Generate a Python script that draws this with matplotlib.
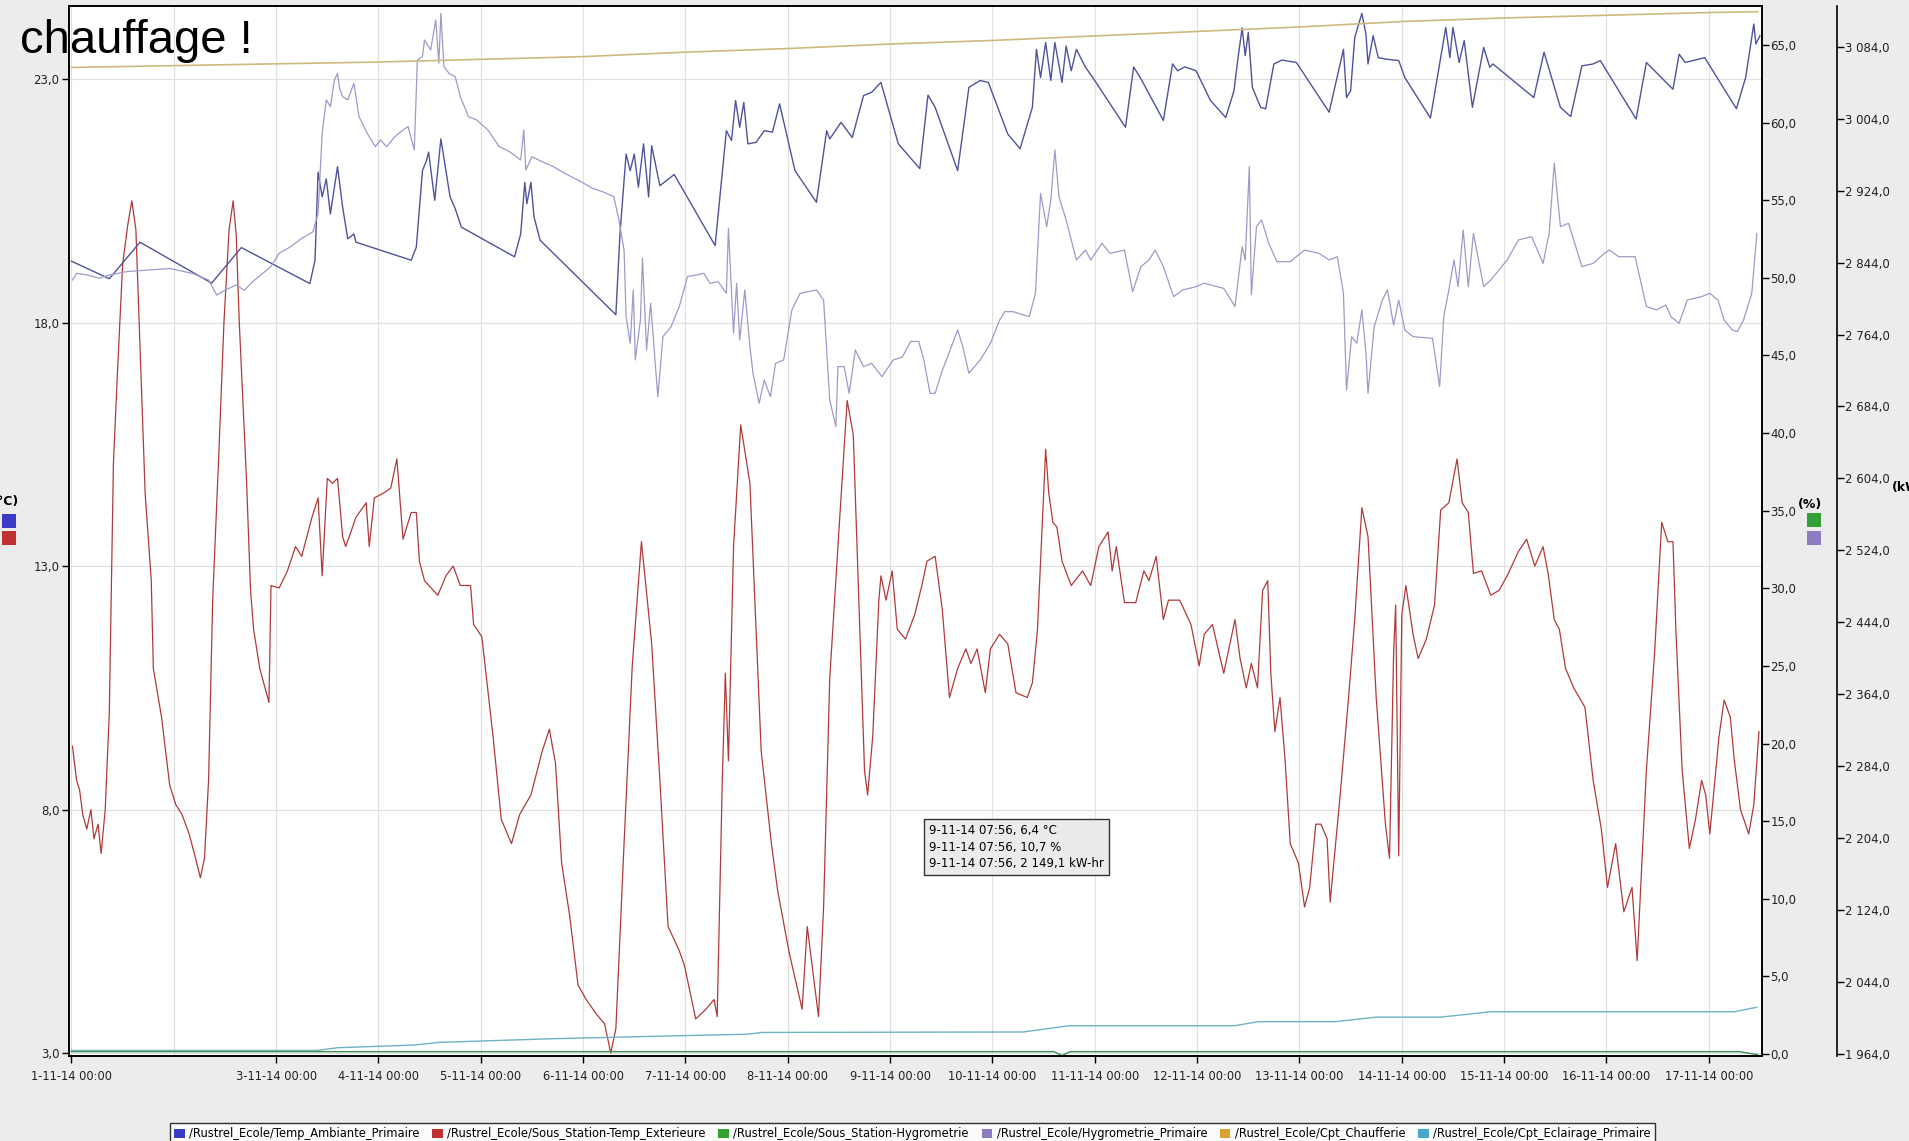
import numpy as np
import matplotlib
matplotlib.use('Agg')
import matplotlib.pyplot as plt
from matplotlib.patches import Patch, Rectangle

# ---- data (x in days since 1-11-14 00:00) ----
red_days = [0.01, 0.05, 0.08, 0.11, 0.15, 0.19, 0.22, 0.26, 0.29, 0.33, 0.37, 0.41, 0.45, 0.50, 0.55, 0.59,
            0.63, 0.67, 0.72, 0.78, 0.80, 0.88, 0.96, 1.02, 1.08, 1.15, 1.20, 1.26, 1.30, 1.34, 1.38, 1.44,
            1.49, 1.54, 1.58, 1.61, 1.64, 1.71, 1.75, 1.78, 1.84, 1.93, 1.95, 2.03, 2.11, 2.19, 2.25, 2.35,
            2.41, 2.45, 2.50, 2.55, 2.60, 2.65, 2.68, 2.78, 2.88, 2.91, 2.96, 3.05, 3.12, 3.18, 3.24, 3.32,
            3.37, 3.40, 3.45, 3.58, 3.66, 3.73, 3.80, 3.90, 3.93, 4.01, 4.12, 4.20, 4.30, 4.38, 4.49, 4.60,
            4.67, 4.73, 4.79, 4.87, 4.95, 5.03, 5.13, 5.21, 5.27, 5.32, 5.40, 5.48, 5.57, 5.67, 5.75, 5.83,
            5.94, 5.99, 6.10, 6.20, 6.28, 6.31, 6.36, 6.39, 6.42, 6.47, 6.54, 6.63, 6.74, 6.84, 6.90, 7.01,
            7.14, 7.19, 7.22, 7.30, 7.35, 7.41, 7.49, 7.58, 7.64, 7.75, 7.78, 7.83, 7.89, 7.91, 7.96, 8.02,
            8.07, 8.15, 8.24, 8.31, 8.36, 8.44, 8.51, 8.58, 8.66, 8.74, 8.79, 8.85, 8.93, 8.98, 9.07, 9.15,
            9.23, 9.34, 9.39, 9.44, 9.52, 9.55, 9.59, 9.63, 9.68, 9.77, 9.88, 9.96, 10.04, 10.13, 10.17, 10.21,
            10.29, 10.40, 10.48, 10.53, 10.60, 10.67, 10.72, 10.83, 10.94, 11.02, 11.07, 11.15, 11.26, 11.37,
            11.42, 11.48, 11.53, 11.59, 11.64, 11.69, 11.72, 11.76, 11.81, 11.86, 11.91, 11.99, 12.05, 12.10,
            12.16, 12.21, 12.27, 12.30, 12.40, 12.48, 12.54, 12.61, 12.67, 12.75, 12.84, 12.88, 12.92, 12.94,
            12.97, 13.00, 13.04, 13.11, 13.16, 13.24, 13.32, 13.38, 13.46, 13.54, 13.59, 13.65, 13.70, 13.78,
            13.87, 13.95, 14.03, 14.14, 14.22, 14.30, 14.38, 14.43, 14.49, 14.54, 14.60, 14.68, 14.79, 14.87,
            14.95, 15.01, 15.09, 15.17, 15.25, 15.30, 15.39, 15.47, 15.54, 15.60, 15.65, 15.68, 15.74, 15.81,
            15.87, 15.93, 15.97, 16.01, 16.06, 16.10, 16.15, 16.21, 16.25, 16.31, 16.39, 16.44, 16.49]
red_vals = [9.3, 8.6, 8.4, 7.9, 7.6, 8.0, 7.4, 7.7, 7.1, 8.0, 10.0, 15.1, 17.0, 19.2, 20.0, 20.5,
            19.9, 17.5, 14.5, 12.7, 10.9, 9.9, 8.5, 8.1, 7.9, 7.5, 7.1, 6.6, 7.0, 8.6, 12.3, 15.3,
            18.0, 19.9, 20.5, 19.8, 18.0, 14.8, 12.5, 11.7, 10.9, 10.2, 12.6, 12.55, 12.9, 13.4, 13.2, 14.0,
            14.4, 12.8, 14.8, 14.7, 14.8, 13.6, 13.4, 14.0, 14.3, 13.4, 14.4, 14.5, 14.6, 15.2, 13.55, 14.1,
            14.1, 13.1, 12.7, 12.4, 12.8, 13.0, 12.6, 12.6, 11.8, 11.55, 9.5, 7.8, 7.3, 7.9, 8.3, 9.2,
            9.65, 8.95, 6.9, 5.8, 4.4, 4.1, 3.8, 3.6, 3.0, 3.5, 7.3, 10.95, 13.5, 11.4, 8.6, 5.6,
            5.1, 4.8, 3.7, 3.9, 4.1, 3.75, 8.6, 10.8, 9.0, 13.4, 15.9, 14.7, 9.2, 7.3, 6.35, 5.1,
            3.9, 5.6, 5.1, 3.75, 6.0, 10.7, 13.4, 16.4, 15.7, 8.8, 8.3, 9.5, 12.3, 12.8, 12.3, 12.9,
            11.7, 11.5, 12.0, 12.6, 13.1, 13.2, 12.1, 10.3, 10.9, 11.3, 11.0, 11.3, 10.4, 11.3, 11.6, 11.4,
            10.4, 10.3, 10.6, 11.7, 15.4, 14.5, 13.9, 13.8, 13.1, 12.6, 12.9, 12.6, 13.4, 13.7, 12.9, 13.4,
            12.25, 12.25, 12.9, 12.7, 13.2, 11.9, 12.3, 12.3, 11.8, 10.95, 11.6, 11.8, 10.8, 11.9,
            11.1, 10.5, 11.0, 10.5, 12.5, 12.7, 10.8, 9.6, 10.3, 9.0, 7.3, 6.9, 6.0, 6.4,
            7.7, 7.7, 7.4, 6.1, 8.35, 10.3, 11.9, 14.2, 13.6, 10.3, 7.7, 7.0, 11.2, 12.2,
            7.05, 12.0, 12.6, 11.6, 11.1, 11.5, 12.2, 14.15, 14.3, 15.2, 14.3, 14.1, 12.85, 12.9,
            12.4, 12.5, 12.8, 13.3, 13.55, 13.0, 13.4, 12.85, 11.9, 11.7, 10.9, 10.5, 10.1, 8.6,
            7.6, 6.4, 7.3, 5.9, 6.4, 4.9, 8.8, 11.2, 13.9, 13.5, 13.5, 11.6, 8.8, 7.2,
            7.8, 8.6, 8.3, 7.5, 8.6, 9.5, 10.25, 9.9, 9.0, 8.0, 7.5, 8.1, 9.6]

blue_days = [0.00, 0.37, 0.67, 1.37, 1.66, 2.33, 2.38, 2.41, 2.45, 2.49, 2.53, 2.60, 2.65, 2.70, 2.76, 2.78,
             3.32, 3.37, 3.43, 3.47, 3.49, 3.55, 3.61, 3.70, 3.75, 3.81, 4.33, 4.39, 4.43, 4.45, 4.49, 4.52,
             4.58, 5.32, 5.36, 5.42, 5.46, 5.50, 5.54, 5.59, 5.64, 5.67, 5.75, 5.89, 6.29, 6.40, 6.45, 6.49,
             6.53, 6.57, 6.61, 6.69, 6.77, 6.85, 6.92, 7.07, 7.28, 7.38, 7.41, 7.52, 7.63, 7.74, 7.82, 7.91,
             8.08, 8.29, 8.37, 8.44, 8.66, 8.77, 8.88, 8.96, 9.15, 9.27, 9.39, 9.43, 9.47, 9.52, 9.57, 9.61,
             9.68, 9.72, 9.77, 9.82, 9.91, 9.99, 10.30, 10.38, 10.46, 10.67, 10.76, 10.81, 10.88, 10.99, 11.13,
             11.28, 11.36, 11.40, 11.44, 11.47, 11.50, 11.54, 11.62, 11.67, 11.75, 11.83, 11.97, 12.29, 12.43,
             12.46, 12.50, 12.54, 12.61, 12.65, 12.67, 12.72, 12.77, 12.84, 12.97, 13.03, 13.28, 13.43, 13.47,
             13.50, 13.56, 13.61, 13.69, 13.80, 13.86, 13.89, 14.29, 14.39, 14.55, 14.65, 14.76, 14.87, 14.94,
             15.29, 15.39, 15.65, 15.71, 15.77, 15.96, 16.27, 16.36, 16.44, 16.46, 16.50]
blue_vals = [19.26, 18.9, 19.65, 18.81, 19.54, 18.8, 19.28, 21.09, 20.58, 20.95, 20.23, 21.2, 20.37, 19.72, 19.82, 19.65,
             19.28, 19.55, 21.12, 21.33, 21.5, 20.51, 21.77, 20.58, 20.34, 19.96, 19.35, 19.82, 20.88, 20.44, 20.88, 20.17,
             19.69, 18.16, 19.82, 21.46, 21.12, 21.46, 20.78, 21.67, 20.58, 21.63, 20.81, 21.04, 19.58, 21.94, 21.74, 22.56,
             22.01, 22.52, 21.67, 21.7, 21.94, 21.91, 22.49, 21.12, 20.47, 21.94, 21.77, 22.11, 21.8, 22.66, 22.73, 22.93,
             21.67, 21.16, 22.67, 22.42, 21.12, 22.83, 22.97, 22.93, 21.87, 21.57, 22.42, 23.61, 23.03, 23.75, 22.97, 23.75,
             22.93, 23.68, 23.17, 23.61, 23.24, 23.0, 22.01, 23.25, 22.97, 22.15, 23.31, 23.17, 23.25, 23.17, 22.56,
             22.21, 22.76, 23.44, 24.05, 23.48, 23.96, 22.83, 22.42, 22.39, 23.31, 23.39, 23.34, 22.32, 23.61,
             22.62, 22.76, 23.85, 24.35, 23.92, 23.31, 23.89, 23.44, 23.41, 23.38, 23.03, 22.2, 24.06, 23.44,
             24.06, 23.34, 23.79, 22.42, 23.65, 23.24, 23.31, 22.62, 23.55, 22.42, 22.23, 23.27, 23.31, 23.38,
             22.18, 23.34, 22.79, 23.51, 23.34, 23.44, 22.39, 23.03, 24.13, 23.72, 23.89]

purple_days = [0.01, 0.05, 0.16, 0.27, 0.37, 0.54, 0.75, 0.96, 1.18, 1.34, 1.42, 1.50, 1.61, 1.69, 1.77, 1.85,
               1.95, 2.03, 2.14, 2.25, 2.36, 2.41, 2.45, 2.49, 2.53, 2.57, 2.60, 2.62, 2.65, 2.70, 2.76, 2.81,
               2.89, 2.97, 3.02, 3.08, 3.16, 3.24, 3.29, 3.35, 3.38, 3.43, 3.45, 3.51, 3.56, 3.59, 3.61, 3.64,
               3.69, 3.75, 3.80, 3.88, 3.96, 4.07, 4.18, 4.28, 4.39, 4.42, 4.44, 4.50, 4.60, 4.71, 4.82, 4.98,
               5.09, 5.19, 5.30, 5.35, 5.40, 5.42, 5.46, 5.49, 5.51, 5.56, 5.58, 5.62, 5.66, 5.73, 5.78, 5.86,
               5.94, 6.02, 6.10, 6.18, 6.24, 6.32, 6.40, 6.42, 6.47, 6.50, 6.53, 6.58, 6.63, 6.66, 6.72, 6.77,
               6.83, 6.88, 6.96, 7.04, 7.12, 7.20, 7.28, 7.35, 7.41, 7.47, 7.49, 7.55, 7.60, 7.66, 7.74, 7.82,
               7.92, 8.03, 8.12, 8.20, 8.28, 8.33, 8.39, 8.44, 8.50, 8.66, 8.71, 8.77, 8.88, 8.98, 9.07, 9.12,
               9.20, 9.36, 9.42, 9.47, 9.53, 9.57, 9.61, 9.65, 9.72, 9.82, 9.91, 9.96, 10.07, 10.15, 10.29, 10.37,
               10.45, 10.53, 10.59, 10.67, 10.77, 10.86, 10.99, 11.07, 11.26, 11.37, 11.44, 11.47, 11.51, 11.53,
               11.58, 11.63, 11.70, 11.78, 11.91, 12.05, 12.19, 12.29, 12.37, 12.43, 12.46, 12.51, 12.56, 12.61,
               12.65, 12.67, 12.73, 12.81, 12.86, 12.92, 12.97, 13.03, 13.11, 13.30, 13.37, 13.41, 13.46, 13.51,
               13.55, 13.60, 13.65, 13.70, 13.80, 13.87, 13.95, 14.03, 14.14, 14.27, 14.38, 14.44, 14.49, 14.55,
               14.63, 14.76, 14.87, 14.98, 15.03, 15.12, 15.28, 15.39, 15.49, 15.58, 15.63, 15.71, 15.79, 15.93,
               16.01, 16.09, 16.15, 16.23, 16.28, 16.34, 16.42, 16.47]
purple_vals = [49.86, 50.29, 50.18, 49.97, 50.18, 50.4, 50.5, 50.6, 50.29, 49.86, 48.89, 49.2, 49.54, 49.2, 49.75, 50.18,
               50.72, 51.58, 52.0, 52.54, 52.97, 54.15, 59.3, 61.46, 61.03, 62.74, 63.17, 62.21, 61.67, 61.46, 62.53, 60.38,
               59.31, 58.45, 58.88, 58.45, 59.09, 59.52, 59.74, 58.24, 64.03, 64.25, 65.32, 64.68, 66.61, 63.82, 67.04, 63.6,
               63.17, 62.96, 61.67, 60.38, 60.17, 59.52, 58.45, 58.13, 57.59, 59.52, 56.95, 57.8, 57.48, 57.16, 56.73, 56.19,
               55.77, 55.55, 55.23, 53.72, 51.79, 47.5, 45.78, 49.22, 44.71, 47.28, 51.26, 45.35, 48.36, 42.34, 46.21, 46.86,
               48.15, 50.08, 50.18, 50.29, 49.65, 49.75, 49.0, 53.19, 46.43, 49.65, 46.0, 49.22, 45.57, 43.85, 41.92, 43.42,
               42.34, 44.49, 44.71, 47.93, 49.0, 49.11, 49.22, 48.57, 42.13, 40.41, 44.28, 44.28, 42.56, 45.35, 44.28, 44.49,
               43.63, 44.71, 44.9, 45.9, 45.9, 44.7, 42.56, 42.56, 43.85, 46.64, 45.57, 43.85, 44.71, 45.78, 47.28, 47.82,
               47.82, 47.5, 49.0, 55.44, 53.3, 55.01, 58.24, 55.23, 53.73, 51.15, 51.79, 51.15, 52.22, 51.58, 51.79, 49.11,
               50.72, 51.15, 51.79, 50.72, 48.79, 49.22, 49.43, 49.65, 49.32, 48.15, 52.0, 51.15, 57.16, 48.9,
               53.3, 53.73, 52.22, 51.04, 51.04, 51.79, 51.58, 51.15, 51.36, 49.0, 42.77, 46.21, 45.78, 47.93,
               45.14, 42.56, 46.85, 48.57, 49.22, 46.96, 48.57, 46.64, 46.21, 46.1, 42.99, 47.5, 49.22, 51.15,
               49.43, 53.08, 49.43, 52.86, 49.43, 49.86, 50.5, 51.15, 52.44, 52.65, 50.93, 52.86, 57.38, 53.3,
               53.51, 50.72, 50.93, 51.58, 51.79, 51.36, 51.36, 48.15, 47.93, 48.25, 47.5, 47.07, 48.57, 48.79,
               49.0, 48.57, 47.28, 46.64, 46.53, 47.28, 49.0, 52.86]

green_days = [0.0, 9.60, 9.68, 9.76, 16.30, 16.48]
green_vals = [0.15, 0.15, -0.1, 0.15, 0.15, -0.05]

gold_days = [0.0, 1.0, 2.0, 3.0, 4.0, 5.0, 6.0, 7.0, 8.0, 9.0, 10.0, 11.0, 12.0, 13.0, 14.0, 15.0, 16.0, 16.48]
gold_vals = [3061, 3063, 3065, 3067, 3070, 3073, 3078, 3082, 3087, 3091, 3096, 3101, 3106, 3112, 3116, 3119, 3122, 3123]

cyan_days = [0.0, 2.4, 2.6, 3.35, 3.6, 4.7, 5.8, 6.6, 6.75, 9.3, 9.75, 11.37, 11.6, 12.35, 12.75, 13.38, 13.87, 16.25, 16.47]
cyan_vals = [1968, 1968, 1971, 1974, 1977, 1981, 1984, 1986, 1988, 1988.5, 1995.5, 1995.5, 2000, 2000, 2005, 2005, 2011, 2011, 2016]

x_ticks = [0, 2, 3, 4, 5, 6, 7, 8, 9, 10, 11, 12, 13, 14, 15, 16]
x_labels = ['1-11-14 00:00', '3-11-14 00:00', '4-11-14 00:00', '5-11-14 00:00', '6-11-14 00:00',
            '7-11-14 00:00', '8-11-14 00:00', '9-11-14 00:00', '10-11-14 00:00', '11-11-14 00:00',
            '12-11-14 00:00', '13-11-14 00:00', '14-11-14 00:00', '15-11-14 00:00', '16-11-14 00:00',
            '17-11-14 00:00']
c_ticks = [3, 8, 13, 18, 23]
c_labels = ['3,0', '8,0', '13,0', '18,0', '23,0']
pct_ticks = [0, 5, 10, 15, 20, 25, 30, 35, 40, 45, 50, 55, 60, 65]
pct_labels = ['0,0', '5,0', '10,0', '15,0', '20,0', '25,0', '30,0', '35,0', '40,0', '45,0', '50,0',
              '55,0', '60,0', '65,0']
kw_ticks = [1964, 2044, 2124, 2204, 2284, 2364, 2444, 2524, 2604, 2684, 2764, 2844, 2924, 3004, 3084]
kw_labels = ['1 964,0', '2 044,0', '2 124,0', '2 204,0', '2 284,0', '2 364,0', '2 444,0', '2 524,0',
             '2 604,0', '2 684,0', '2 764,0', '2 844,0', '2 924,0', '3 004,0', '3 084,0']

series_names = ['/Rustrel_Ecole/Temp_Ambiante_Primaire', '/Rustrel_Ecole/Sous_Station-Temp_Exterieure',
                '/Rustrel_Ecole/Sous_Station-Hygrometrie', '/Rustrel_Ecole/Hygrometrie_Primaire',
                '/Rustrel_Ecole/Cpt_Chaufferie', '/Rustrel_Ecole/Cpt_Eclairage_Primaire']
legend_colors = ['#3b3bc8', '#c03232', '#33a033', '#8e7cc3', '#d9a232', '#44a9c9']

tooltip = '9-11-14 07:56, 6,4 °C\n9-11-14 07:56, 10,7 %\n9-11-14 07:56, 2 149,1 kW-hr'

# ---- figure ----
W, H = 1909, 1141
fig = plt.figure(figsize=(W / 100, H / 100), dpi=100, facecolor='#ececec')
L, R, T, B = 69, 1762, 6, 1056
ax = fig.add_axes([L / W, 1 - B / H, (R - L) / W, (B - T) / H])
ax.set_facecolor('white')
ax2 = ax.twinx()
ax3 = ax.twinx()
ax3.spines['right'].set_position(('axes', (1837 - L) / (R - L)))

ax.set_xlim(-0.024, 16.52)
ax.set_ylim(2.94, 24.5)
ax2.set_ylim(-0.13, 67.51)
ax3.set_ylim(1961.8, 3129.3)

ax.plot(red_days, red_vals, color='#b03a3a', lw=0.9)
ax.plot(blue_days, blue_vals, color='#50539c', lw=1.0)
ax2.plot(purple_days, purple_vals, color='#9d9bc9', lw=0.9)
ax2.plot(green_days, green_vals, color='#3f8f4f', lw=1.0)
ax3.plot(gold_days, gold_vals, color='#cdb97f', lw=1.2)
ax3.plot(cyan_days, cyan_vals, color='#6fb2c3', lw=1.0)

# grid
ax.set_xticks(x_ticks)
ax.set_xticklabels(x_labels, fontsize=8.3, color='#222222')
ax.set_xticks(range(0, 17), minor=True)
ax.grid(which='minor', axis='x', color='#e0e0e0', lw=0.9)
ax.grid(which='major', axis='x', color='#e0e0e0', lw=0.9)
ax.grid(axis='y', color='#e0e0e0', lw=0.9)
ax.set_axisbelow(True)
ax.tick_params(axis='x', which='minor', length=0)
ax.tick_params(axis='x', which='major', length=5, width=1, pad=5)

ax.set_yticks(c_ticks)
ax.set_yticklabels(c_labels, fontsize=8.5, color='#222222')
ax.tick_params(axis='y', length=5, width=1, pad=2)
ax2.set_yticks(pct_ticks)
ax2.set_yticklabels(pct_labels, fontsize=8.5, color='#222222')
ax2.tick_params(axis='y', length=5, width=1, pad=1)
ax3.set_yticks(kw_ticks)
ax3.set_yticklabels(kw_labels, fontsize=8.5, color='#222222')
ax3.tick_params(axis='y', length=5, width=1, pad=1)

for a in (ax, ax2):
    for s in a.spines.values():
        s.set_color('black')
        s.set_linewidth(1.2)
for name in ('left', 'top', 'bottom'):
    ax3.spines[name].set_visible(False)
ax3.spines['right'].set_linewidth(1.2)

# axis unit keys (clipped by the window edge as in the original screenshot)
fig.text(-0.004, 1 - 505 / H, '(°C)', fontsize=9, fontweight='bold', va='baseline')
fig.patches.append(Rectangle((2 / W, 1 - 528 / H), 14 / W, 14 / H, transform=fig.transFigure,
                             fc=legend_colors[0], ec='none'))
fig.patches.append(Rectangle((2 / W, 1 - 545 / H), 14 / W, 14 / H, transform=fig.transFigure,
                             fc=legend_colors[1], ec='none'))
fig.text(1798 / W, 1 - 508 / H, '(%)', fontsize=9, fontweight='bold', va='baseline')
fig.patches.append(Rectangle((1807 / W, 1 - 527 / H), 14 / W, 14 / H, transform=fig.transFigure,
                             fc=legend_colors[2], ec='none'))
fig.patches.append(Rectangle((1807 / W, 1 - 545 / H), 14 / W, 14 / H, transform=fig.transFigure,
                             fc=legend_colors[3], ec='none'))
fig.text(1892 / W, 1 - 491 / H, '(kW-hr)', fontsize=9, fontweight='bold', va='baseline')

# tooltip
fig.text(929 / W, 1 - 824 / H, tooltip, fontsize=8.5, va='top', ha='left', linespacing=1.35,
         bbox=dict(boxstyle='square,pad=0.4', fc='#ebebeb', ec='#333333', lw=1))

# overlay title fragment
fig.text(20 / W, 1 - 53 / H, 'chauffage !', fontsize=34, family='Liberation Sans', va='baseline')

# legend
handles = [Patch(fc=c, ec='none') for c in legend_colors]
fig.legend(handles, series_names, loc='lower center', bbox_to_anchor=(0.478, -0.008), ncol=6,
           fontsize=8.3, frameon=True, fancybox=False, edgecolor='black', facecolor='white',
           handlelength=0.9, handleheight=0.9, handletextpad=0.4, columnspacing=1.1, borderpad=0.35)

fig.savefig('out.png', dpi=100, facecolor=fig.get_facecolor())
